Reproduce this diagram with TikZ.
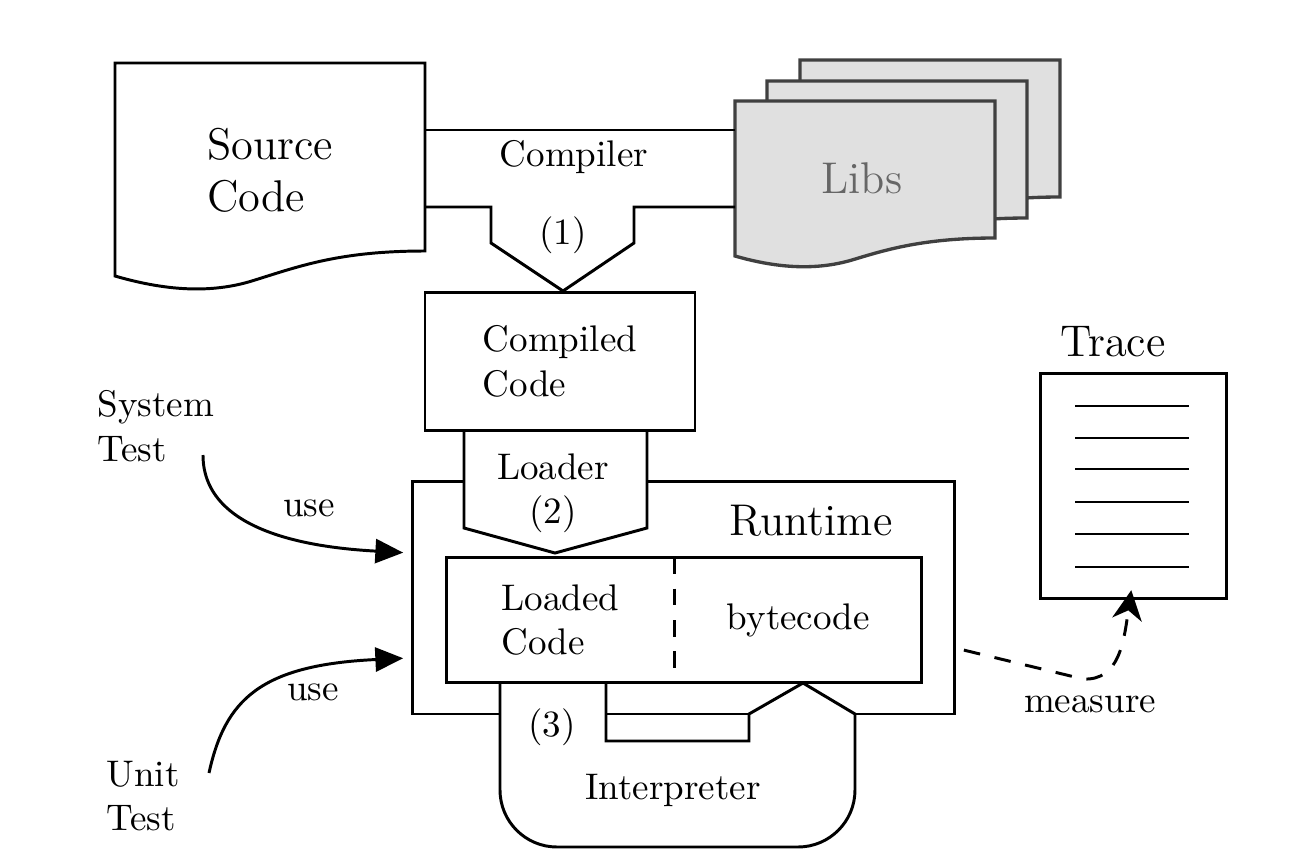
\documentclass[tikz,border=0pt]{standalone}
\usepackage{tikz}
\usetikzlibrary{arrows.meta,positioning}

\begin{document}
\begin{tikzpicture}[
      x=0.27pt, y=-0.27pt,
      line width=0.8pt,
      box/.style={draw, align=left},
      part/.style={outer sep=0pt, minimum height=34pt, align=left},
      doc/.style={draw, fill=white},
      libdoc/.style={draw=black!75, fill=black!12, line width=0.9pt},
      big/.style={font=\large, align=left},
      usearr/.style={-{Triangle[length=7.5pt,width=6.5pt]}, shorten >=2pt},
      measarr/.style={-{Stealth[length=8pt,width=8pt,inset=2.5pt]},
                      dash pattern=on 4.5pt off 4pt, shorten >=-2.8pt},
    ]
    \useasboundingbox (0,0) rectangle (1308,868);

    % Source code and libraries
    \draw[doc] (115,276) -- (115,63) -- (425,63) -- (425,251)
      .. controls (340,251) and (300,266) .. (255,280)
      .. controls (215,293) and (170,292) .. (115,276) -- cycle;
    \node[big] (src) at (270,170) {Source\\Code};
    \foreach \dx/\dy in {65/-41, 32/-20, 0/0}
      \draw[libdoc, shift={(\dx,\dy)}] (735,256) -- (735,101) -- (995,101) -- (995,238)
        .. controls (923,238) and (885,250) .. (852,260)
        .. controls (818,270) and (780,269) .. (735,256) -- cycle;
    \node[font=\large, text=black!60] (libs) at (862,178) {Libs};

    % Compiler
    \draw (425,130) -- (735,130);
    \draw (425,207) -- (491,207) -- (491,243) -- (563,291) -- (634,243)
      -- (634,207) -- (735,207);
    \node (comp) at (574,157) {Compiler};
    \node (n1) at (563,235) {(1)};

    % Runtime, loader, compiled code
    \node[draw, minimum width=146.6pt, minimum height=62.9pt] (rt) at (683.5,597.5) {};
    \node[font=\large] (rtlbl) at (811,521) {Runtime};
    \draw[fill=white] (464,431) -- (464,528) -- (555,553) -- (647,528) -- (647,431);
    \node[align=center] (ldr) at (553,493) {Loader\\(2)};
    \node[box, minimum width=72.9pt, minimum height=37.5pt] (cc) at (560,361.5) {Compiled\\Code};

    % Interpreter
    \draw[fill=white] (606,683) -- (606,741) -- (749,741) -- (749,714) -- (803,683)
      -- (855,714) -- (855,790) .. controls (855,821.5) and (829.5,847) .. (798,847)
      -- (557,847) .. controls (525.5,847) and (500,821.5) .. (500,790) -- (500,683);
    \node (interp) at (673,790) {Interpreter};
    \node (n3) at (552,727) {(3)};

    % Loaded code
    \node[part, minimum width=61.8pt] (loaded) at (560.5,620) {Loaded\\Code};
    \node[part, minimum width=66.7pt, right=0pt of loaded] (bc) {bytecode};
    \draw (loaded.north west) rectangle (bc.south east);
    \draw[dash pattern=on 4.5pt off 4pt] (loaded.north east) -- (loaded.south east);

    % Trace
    \node[draw, minimum width=50pt, minimum height=61pt] (tr) at (1133.5,486) {};
    \foreach \yy in {406,438,469,502,534,567}
      \draw (1075,\yy) -- (1189,\yy);
    \node[font=\large] (trlbl) at (1113,342) {Trace};

    % Tests
    \node[align=left] (st) at (156,426) {System\\Test};
    \node[align=left] (ut) at (143,796) {Unit\\Test};
    \coordinate (st-out) at (203,455);
    \coordinate (ut-out) at (209,773);
    \draw[usearr] (st-out) .. controls (203,535) and (320,548) .. ([yshift=12pt]rt.west);
    \draw[usearr] (ut-out) .. controls (225,700) and (260,665) .. ([yshift=-16.3pt]rt.west);
    \node (use1) at (309,508) {use};
    \node (use2) at (313,692) {use};

    % Measure
    \draw[measarr] ([yshift=-14.2pt, xshift=2pt]rt.east) -- (1083,679)
      .. controls (1120,681) and (1124,640) .. ([xshift=-1pt]tr.south);
    \node (meas) at (1090,704) {measure};
  \end{tikzpicture}
\end{document}
